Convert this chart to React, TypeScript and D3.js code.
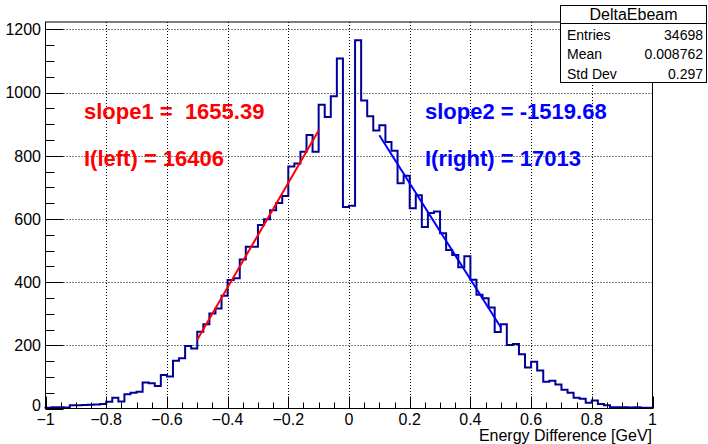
import React, { useRef, useEffect } from "react";
import * as d3 from "d3";

// histogram: 100 bins from -1 to 1 GeV
const binLow = -1;
const binHigh = 1;
const counts = [
	2, 4, 4, 3, 10, 10, 11, 12, 13, 14,
	21, 34, 22, 45, 50, 53, 82, 80, 71, 106,
	101, 151, 159, 198, 190, 243, 267, 301, 317, 357,
	407, 412, 472, 512, 512, 581, 599, 628, 651, 673,
	766, 776, 813, 866, 813, 962, 923, 989, 1108, 638,
	642, 1166, 975, 925, 880, 897, 844, 816, 713, 737,
	634, 675, 575, 619, 624, 555, 502, 486, 447, 482,
	408, 360, 349, 320, 242, 267, 201, 204, 172, 130,
	148, 120, 85, 88, 76, 59, 50, 34, 31, 18,
	25, 14, 10, 4, 4, 4, 3, 4, 2, 2,
];

// linear fits on each side
const fitColors = ["#ff0000", "#0000ff"];
const fitRanges = [[-0.5, -0.1], [0.1, 0.5]];
const fitSlopes = [1655.39, -1519.68];
const fitIntercepts = [1045.5, 1017];

const fitLabels = [
	["slope1 =  1655.39", "I(left) = 16406"],
	["slope2 = -1519.68", "I(right) = 17013"],
];
const fitLabelX = [84, 425];

const statsTitle = "DeltaEbeam";
const statsNames = ["Entries", "Mean", "Std Dev"];
const statsValues = ["34698", "0.008762", "0.297"];

const xTitle = "Energy Difference [GeV]";

const W = 708;
const H = 444;
const FONT = "'Liberation Sans', Arial, Helvetica, sans-serif";

const App = () => {
	const svgRef = useRef();

	useEffect(() => {
		const svg = d3.select(svgRef.current);
		svg.selectAll("*").remove();

		const left = 45.5;
		const right = 652.5;
		const top = 22;
		const bottom = 408.5;

		const x = d3.scaleLinear().domain([binLow, binHigh]).range([left, right]);
		const y = d3.scaleLinear().domain([0, 1223.7]).range([bottom, top]);

		svg.append("rect").attr("width", W).attr("height", H).attr("fill", "white");

		// grid
		const gGrid = svg
			.append("g")
			.attr("stroke", "#000")
			.attr("stroke-width", 1)
			.attr("stroke-dasharray", "1,2");
		x.ticks(10)
			.filter((t) => t > binLow + 1e-9 && t < binHigh - 1e-9)
			.forEach((t) => {
				const px = Math.round(x(t)) + 0.5;
				gGrid.append("line").attr("x1", px).attr("x2", px).attr("y1", top).attr("y2", bottom);
			});
		d3.range(200, 1201, 200).forEach((t) => {
			const py = Math.round(y(t)) + 0.5;
			gGrid.append("line").attr("x1", left).attr("x2", right).attr("y1", py).attr("y2", py);
		});

		// histogram outline
		const bw = (binHigh - binLow) / counts.length;
		const pts = [[x(binLow), y(0)]];
		counts.forEach((c, i) => {
			const x0 = x(binLow + i * bw);
			const x1 = x(binLow + (i + 1) * bw);
			pts.push([x0, y(c)], [x1, y(c)]);
		});
		pts.push([x(binHigh), y(0)]);
		svg.append("path")
			.attr("d", d3.line()(pts))
			.attr("fill", "none")
			.attr("stroke", "#000099")
			.attr("stroke-width", 2)
			.attr("stroke-linejoin", "miter");

		// fit lines
		fitRanges.forEach((r, k) => {
			svg.append("line")
				.attr("x1", x(r[0]))
				.attr("y1", y(fitSlopes[k] * r[0] + fitIntercepts[k]))
				.attr("x2", x(r[1]))
				.attr("y2", y(fitSlopes[k] * r[1] + fitIntercepts[k]))
				.attr("stroke", fitColors[k])
				.attr("stroke-width", 2);
		});

		// frame
		svg.append("rect")
			.attr("x", left)
			.attr("y", top)
			.attr("width", right - left)
			.attr("height", bottom - top)
			.attr("fill", "none")
			.attr("stroke", "#000")
			.attr("stroke-width", 1);

		// ticks
		const gTicks = svg.append("g").attr("stroke", "#000").attr("stroke-width", 1);
		d3.range(0, 1223, 50).forEach((t) => {
			const major = t % 200 === 0;
			const py = Math.round(y(t)) + 0.5;
			gTicks.append("line").attr("x1", left).attr("x2", left + (major ? 18 : 9)).attr("y1", py).attr("y2", py);
		});
		d3.range(0, 41).forEach((i) => {
			const t = binLow + i * 0.05;
			const major = i % 4 === 0;
			const px = Math.round(x(t)) + 0.5;
			gTicks.append("line").attr("x1", px).attr("x2", px).attr("y1", bottom).attr("y2", bottom - (major ? 12 : 6));
		});

		// tick labels
		const fmt = d3.format("~g");
		const gLab = svg
			.append("g")
			.attr("font-family", FONT)
			.attr("font-size", 16)
			.attr("fill", "#000");
		d3.range(0, 1201, 200).forEach((t) => {
			gLab.append("text")
				.attr("x", 41)
				.attr("y", t === 0 ? y(t) - 3 : y(t))
				.attr("dy", "0.36em")
				.attr("text-anchor", "end")
				.text(t);
		});
		x.ticks(10).forEach((t) => {
			gLab.append("text")
				.attr("x", x(t))
				.attr("y", 425)
				.attr("text-anchor", "middle")
				.text(fmt(t));
		});
		gLab.append("text")
			.attr("x", 652)
			.attr("y", 440.5)
			.attr("text-anchor", "end")
			.text(xTitle);

		// fit annotations
		fitLabels.forEach((lines, k) => {
			lines.forEach((s, j) => {
				svg.append("text")
					.attr("x", fitLabelX[k])
					.attr("y", j === 0 ? 119 : 166)
					.attr("font-family", FONT)
					.attr("font-weight", "bold")
					.attr("font-size", 22)
					.attr("fill", fitColors[k])
					.style("white-space", "pre")
					.text(s);
			});
		});

		// stats box
		const sx = 560.5;
		const sw = 146;
		const gStats = svg.append("g").attr("font-family", FONT);
		gStats.append("rect")
			.attr("x", sx)
			.attr("y", 5.5)
			.attr("width", sw)
			.attr("height", 77)
			.attr("fill", "white")
			.attr("stroke", "#000");
		gStats.append("line")
			.attr("x1", sx)
			.attr("x2", sx + sw)
			.attr("y1", 23.5)
			.attr("y2", 23.5)
			.attr("stroke", "#000");
		gStats.append("text")
			.attr("x", sx + sw / 2)
			.attr("y", 20)
			.attr("text-anchor", "middle")
			.attr("font-size", 16)
			.text(statsTitle);
		statsNames.forEach((n, i) => {
			const by = 39.5 + i * 19.5;
			gStats.append("text").attr("x", 567).attr("y", by).attr("font-size", 14).text(n);
			gStats.append("text")
				.attr("x", 703)
				.attr("y", by)
				.attr("text-anchor", "end")
				.attr("font-size", 14)
				.text(statsValues[i]);
		});
	}, []);

	return (
		<svg
			ref={svgRef}
			width={W}
			height={H}
			style={{ position: "absolute", left: 0, top: 0, display: "block" }}
		/>
	);
};

export default App;
